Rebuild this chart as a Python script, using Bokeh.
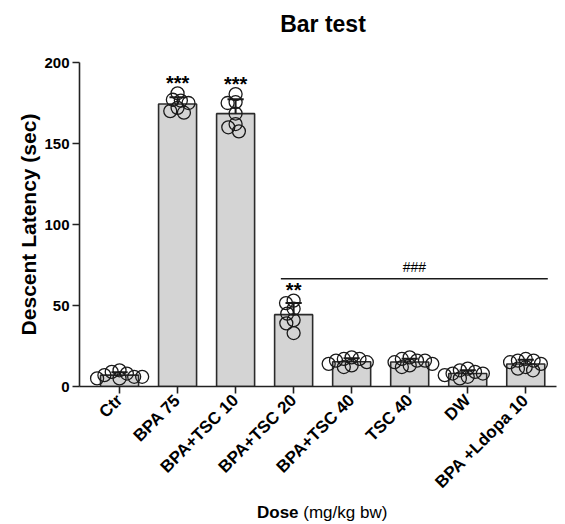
import numpy as np
from math import pi, sqrt
from bokeh.plotting import figure
from bokeh.layouts import column
from bokeh.models import ColumnDataSource, FixedTicker, Label, Div
from bokeh.embed import file_html
from bokeh.resources import INLINE
from bokeh.core.properties import value

# ---------------- data ----------------
groups = ["Ctr", "BPA 75", "BPA+TSC 10", "BPA+TSC 20", "BPA+TSC 40", "TSC 40", "DW", "BPA +Ldopa 10"]
ctr = [9, 8, 10, 6, 5, 7, 5, 6]
bpa75 = [170, 176.5, 181, 177, 169, 172, 175]
bpa_tsc10 = [180.5, 175.5, 175, 168.5, 157.5, 162, 160]
bpa_tsc20 = [51.5, 53, 48, 45, 41, 39, 33]
bpa_tsc40 = [18, 17, 15, 13, 16, 14, 17, 12]
tsc40 = [18, 16, 15, 13, 17, 14, 16, 12]
dw = [11, 10, 8, 6, 9, 7, 5, 8]
bpa_ldopa10 = [17, 16, 14, 11, 15, 12, 10, 16]
points = [ctr, bpa75, bpa_tsc10, bpa_tsc20, bpa_tsc40, tsc40, dw, bpa_ldopa10]
stars = ["", "***", "***", "**", "", "", "", ""]
hash_label = "###"
hash_from, hash_to = "BPA+TSC 20", "BPA +Ldopa 10"
y_ticks = [0, 50, 100, 150, 200]
title_text = "Bar test"
xlabel_bold, xlabel_rest = "Dose", "(mg/kg bw)"

# ---------------- layout ----------------
W = 565
TITLE_H = 48
XLAB_H = 22
LEFT, FW = 79, 477
TOP, FH = 14, 324            # frame top inside the figure; frame height (y 0..200)
FIG_H = 524 - TITLE_H - XLAB_H
X0, X1 = -0.69, 7.53
PX = FW / (X1 - X0)
PY = FH / 200.0
FONT = "Liberation Sans"

xs = list(range(len(groups)))
means = [float(np.mean(v)) for v in points]
sds = [float(np.std(v, ddof=1)) for v in points]


def swarm(vals, d=8.0):
    order = sorted(range(len(vals)), key=lambda i: -vals[i])
    placed = []
    offs = [0.0] * len(vals)
    for i in order:
        y = vals[i] * PY
        ivs = []
        cands = [0.0]
        for (xp, yp) in placed:
            dy = abs(y - yp)
            if dy < d:
                w = sqrt(d * d - dy * dy)
                ivs.append((xp - w, xp + w))
                cands += [xp - w, xp + w]
        cands.sort(key=lambda c: (abs(c), c))
        best = 0.0
        for c in cands:
            if all(not (a + 1e-6 < c < b - 1e-6) for a, b in ivs):
                best = c
                break
        placed.append((best, y))
        offs[i] = best / PX
    return offs


px_, py_ = [], []
for i, v in enumerate(points):
    o = swarm(v)
    px_ += [i + oo for oo in o]
    py_ += list(v)

p = figure(frame_width=FW, frame_height=FH, x_range=(X0, X1), y_range=(y_ticks[0], y_ticks[-1]),
           output_backend="svg", toolbar_location=None, width=W, height=FIG_H,
           min_border_left=LEFT, min_border_right=W - LEFT - FW, min_border_top=TOP,
           min_border_bottom=FIG_H - FH - TOP)
p.outline_line_color = None
p.grid.grid_line_color = None
p.background_fill_color = "white"
p.border_fill_color = "white"

bar_src = ColumnDataSource(dict(x=xs, top=means))
p.vbar(x="x", top="top", bottom=0, width=0.655, source=bar_src,
       fill_color="#d4d4d4", line_color="#2b2b2b", line_width=1.6)

# error bars (mean + SD, upper only)
up = [m + s for m, s in zip(means, sds)]
p.segment(x0=xs, y0=means, x1=xs, y1=up, line_color="#1a1a1a", line_width=2)
p.segment(x0=[x - 0.14 for x in xs], y0=up, x1=[x + 0.14 for x in xs], y1=up,
          line_color="#1a1a1a", line_width=2)

p.scatter(px_, py_, size=13, marker="circle", fill_alpha=0, line_color="#1a1a1a", line_width=1.3)

# stars
star_src = ColumnDataSource(dict(x=xs, y=[max(v) + 6.3 for v in points], t=stars))
p.text(x="x", y="y", text="t", source=star_src, text_align="center", text_baseline="middle",
       text_font=value(FONT), text_font_size="20px", text_font_style="bold", text_color="black")

# ### bracket
i0, i1 = groups.index(hash_from), groups.index(hash_to)
p.segment(x0=[i0 - 0.22], y0=[66.5], x1=[i1 + 0.38], y1=[66.5], line_color="#1a1a1a", line_width=1.3)
p.add_layout(Label(x=(i0 - 0.22 + i1 + 0.38) / 2, y=74, text=hash_label, text_align="center",
                   text_baseline="middle", text_font=FONT, text_font_size="14px",
                   text_color="black"))

# axes
for ax in (p.xaxis[0], p.yaxis[0]):
    ax.axis_line_width = 1.6
    ax.axis_line_color = "#222222"
    ax.major_tick_line_width = 1.6
    ax.major_tick_line_color = "#222222"
    ax.major_tick_out = 7
    ax.major_tick_in = 0
    ax.minor_tick_line_color = None
    ax.major_label_text_font = FONT
    ax.major_label_text_font_style = "bold"
    ax.major_label_text_color = "black"

p.yaxis.ticker = FixedTicker(ticks=y_ticks)
p.yaxis.major_label_text_font_size = "15px"
p.yaxis.major_label_standoff = 3
p.yaxis.axis_label = "Descent Latency (sec)"
p.yaxis.axis_label_text_font = FONT
p.yaxis.axis_label_text_font_size = "21px"
p.yaxis.axis_label_text_font_style = "bold"
p.yaxis.axis_label_text_color = "black"
p.yaxis.axis_label_standoff = 1

p.xaxis.ticker = FixedTicker(ticks=xs)
p.xaxis.major_label_overrides = {i: g for i, g in enumerate(groups)}
p.xaxis.major_label_orientation = pi / 4
p.xaxis.major_label_text_font_size = "17px"
p.xaxis.major_label_standoff = 4

title = Div(text=title_text, width=484, height=TITLE_H, margin=(0, 0, 0, 81),
            styles={"font-family": FONT, "font-size": "23px", "font-weight": "bold",
                    "line-height": f"{TITLE_H}px", "text-align": "center", "color": "black",
                    "white-space": "nowrap"})

xlab = Div(text=f'<span style="font-weight:bold">{xlabel_bold}</span> {xlabel_rest}',
           width=W - 257, height=XLAB_H, margin=(0, 0, 0, 257),
           styles={"font-family": FONT, "font-size": "17px", "line-height": f"{XLAB_H}px",
                   "color": "black", "white-space": "nowrap"})

layout = column(title, p, xlab, spacing=0)
open("out.html", "w").write(file_html(layout, INLINE))
